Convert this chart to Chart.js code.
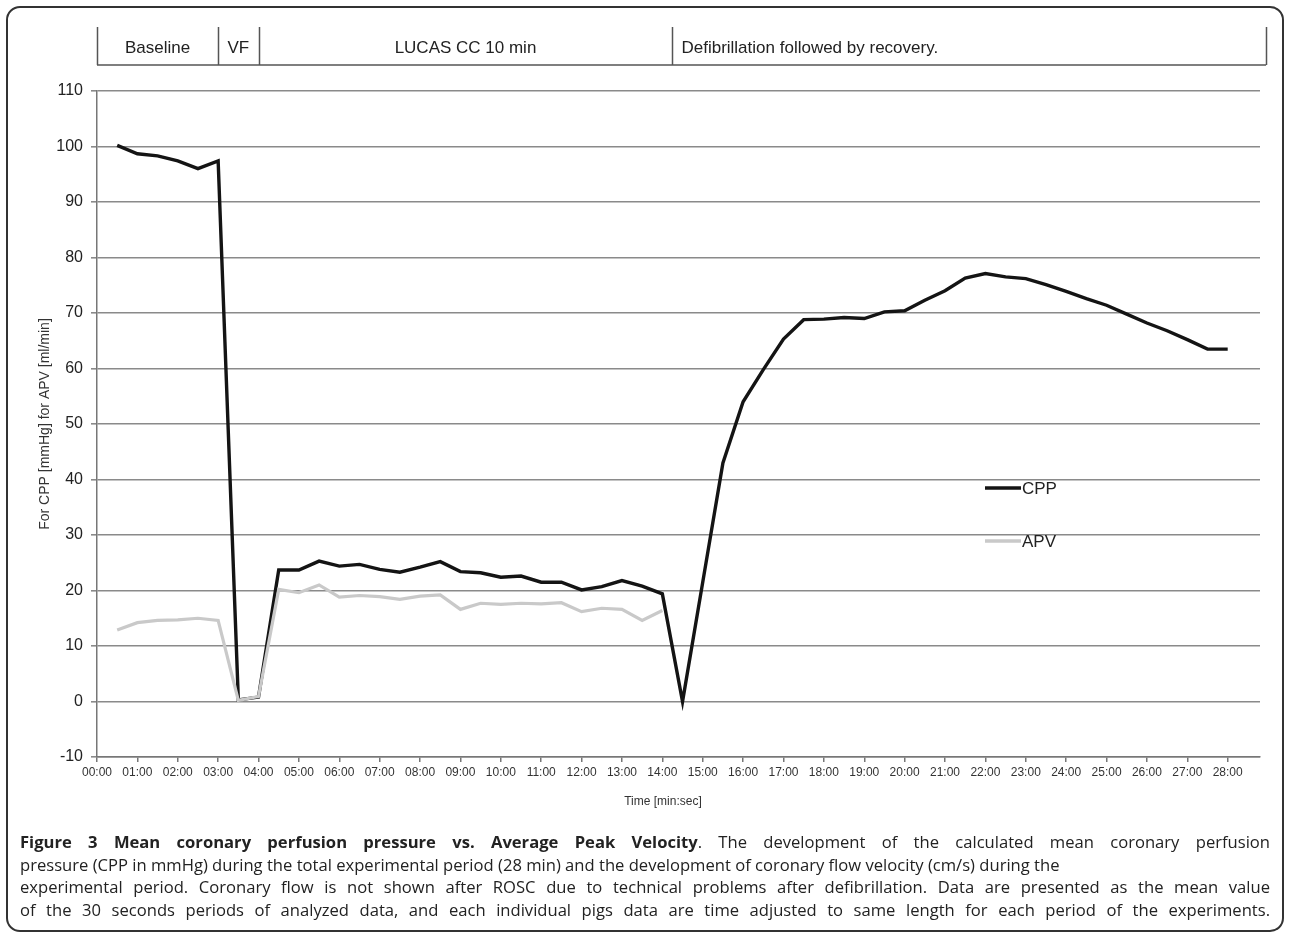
<!DOCTYPE html>
<html>
<head>
<meta charset="utf-8">
<script src="https://cdn.jsdelivr.net/npm/chart.js@4.4.1/dist/chart.umd.min.js"></script>
<style>
    html, body { margin: 0; padding: 0; background: #fff; }
    #page { position: relative; width: 1290px; height: 938px; overflow: hidden; }
    #frame {
        position: absolute; left: 6px; top: 6px; width: 1274px; height: 922px;
        border: 2px solid #333; border-radius: 14px; pointer-events: none;
    }
    #chartBox { position: absolute; left: 0; top: 0; width: 1290px; height: 938px; }
    #caption {
        position: absolute; left: 20px; top: 831px; width: 1250px;
        font-family: "Open Sans", "Noto Sans", sans-serif; font-size: 16.6px; line-height: 22.5px; color: #222;
    }
    #caption div { text-align: justify; text-align-last: justify; white-space: nowrap; }
    #caption div.left { text-align-last: left; }
</style>
</head>
<body>
<div id="page">
    <div id="chartBox"><canvas id="cppChart"></canvas></div>
    <div id="caption">
        <div><b>Figure 3 Mean coronary perfusion pressure vs. Average Peak Velocity</b>. The development of the calculated mean coronary perfusion</div>
        <div class="left">pressure (CPP in mmHg) during the total experimental period (28 min) and the development of coronary flow velocity (cm/s) during the</div>
        <div>experimental period. Coronary flow is not shown after ROSC due to technical problems after defibrillation. Data are presented as the mean value</div>
        <div>of the 30 seconds periods of analyzed data, and each individual pigs data are time adjusted to same length for each period of the experiments.</div>
    </div>
    <div id="frame"></div>
</div>
<script>
// time in minutes (30 s periods)
const cppTimes = [0.5, 1, 1.5, 2, 2.5, 3, 3.5, 4, 4.5, 5, 5.5, 6, 6.5, 7, 7.5, 8, 8.5, 9, 9.5, 10,
    10.5, 11, 11.5, 12, 12.5, 13, 13.5, 14, 14.5, 15, 15.5, 16, 16.5, 17, 17.5, 18, 18.5, 19, 19.5, 20,
    20.5, 21, 21.5, 22, 22.5, 23, 23.5, 24, 24.5, 25, 25.5, 26, 26.5, 27, 27.5, 28];
const cppValues = [100.2, 98.7, 98.3, 97.4, 96.0, 97.4, 0.3, 0.8, 23.7, 23.7, 25.3, 24.4, 24.7, 23.8, 23.3, 24.2, 25.2, 23.4, 23.2, 22.4,
    22.6, 21.5, 21.5, 20.1, 20.7, 21.8, 20.8, 19.4, 0, 21.5, 43.0, 54.0, 59.8, 65.3, 68.8, 68.9, 69.2, 69.0, 70.2, 70.4,
    72.3, 74.0, 76.3, 77.1, 76.5, 76.2, 75.1, 73.9, 72.6, 71.4, 69.8, 68.2, 66.8, 65.2, 63.5, 63.5];

const apvTimes = [0.5, 1, 1.5, 2, 2.5, 3, 3.5, 4, 4.5, 5, 5.5, 6, 6.5, 7, 7.5, 8, 8.5, 9, 9.5, 10,
    10.5, 11, 11.5, 12, 12.5, 13, 13.5, 14];
const apvValues = [12.9, 14.2, 14.6, 14.7, 15.0, 14.6, 0.2, 0.9, 20.2, 19.6, 21.0, 18.8, 19.1, 18.9, 18.4, 19.0, 19.2, 16.6, 17.7, 17.5,
    17.7, 17.6, 17.8, 16.2, 16.8, 16.6, 14.6, 16.4];

const minuteTicks = [0, 1, 2, 3, 4, 5, 6, 7, 8, 9, 10, 11, 12, 13, 14, 15, 16, 17, 18, 19, 20, 21, 22, 23, 24, 25, 26, 27, 28];

// experiment phases shown above the plot (minutes)
const phaseLabels = ["Baseline", "VF", "LUCAS CC 10 min", "Defibrillation followed by recovery."];
const phaseStarts = [0, 3, 4, 14.25];
const phaseEnds = [3, 4, 14.25, 28.95];

const seriesNames = ["CPP", "APV"];
const seriesColors = ["#141414", "#c9c9c9"];

const toPoints = (xs, ys) => xs.map((x, i) => ({ x: x, y: ys[i] }));
const fmtMin = v => String(v).padStart(2, "0") + ":00";

const axisFont = "'Liberation Sans', Arial, sans-serif";
const narrowFont = "'Liberation Sans Narrow', 'Liberation Sans', Arial, sans-serif";

// header with phases, axis titles and legend
const extrasPlugin = {
    id: "extras",
    afterDraw(chart) {
        const ctx = chart.ctx;
        const xs = chart.scales.x;
        const area = chart.chartArea;
        const top = area.top - 64, bottom = area.top - 26;

        ctx.save();
        ctx.strokeStyle = "#555";
        ctx.lineWidth = 1.5;
        ctx.beginPath();
        ctx.moveTo(xs.getPixelForValue(phaseStarts[0]), bottom);
        ctx.lineTo(xs.getPixelForValue(phaseEnds[phaseEnds.length - 1]), bottom);
        phaseStarts.forEach(s => {
            const px = Math.round(xs.getPixelForValue(s)) + 0.5;
            ctx.moveTo(px, top);
            ctx.lineTo(px, bottom);
        });
        const endPx = Math.round(xs.getPixelForValue(phaseEnds[phaseEnds.length - 1])) + 0.5;
        ctx.moveTo(endPx, top);
        ctx.lineTo(endPx, bottom);
        ctx.stroke();

        ctx.fillStyle = "#222";
        ctx.font = "17px " + narrowFont;
        ctx.textBaseline = "middle";
        phaseLabels.forEach((label, i) => {
            const a = xs.getPixelForValue(phaseStarts[i]);
            const b = xs.getPixelForValue(phaseEnds[i]);
            if (i === phaseLabels.length - 1) {
                ctx.textAlign = "left";
                ctx.fillText(label, a + 9, (top + bottom) / 2 + 2);
            } else {
                ctx.textAlign = "center";
                ctx.fillText(label, (a + b) / 2, (top + bottom) / 2 + 2);
            }
        });

        // axis titles
        ctx.font = "12px " + axisFont;
        ctx.fillStyle = "#333";
        ctx.textAlign = "center";
        ctx.fillText("Time [min:sec]", 663, 802);
        ctx.font = "14px " + axisFont;
        ctx.translate(45, (area.top + area.bottom) / 2);
        ctx.rotate(-Math.PI / 2);
        ctx.fillText("For CPP [mmHg] for APV [ml/min]", 0, 0);
        ctx.restore();

        // legend
        ctx.save();
        ctx.font = "17px " + axisFont;
        ctx.textAlign = "left";
        ctx.textBaseline = "middle";
        seriesNames.forEach((name, i) => {
            const y = 488 + i * 53;
            ctx.strokeStyle = seriesColors[i];
            ctx.lineWidth = 3.5;
            ctx.beginPath();
            ctx.moveTo(985, y);
            ctx.lineTo(1021, y);
            ctx.stroke();
            ctx.fillStyle = "#222";
            ctx.fillText(name, 1022, y + 1);
        });
        ctx.restore();
    }
};

const chart = new Chart(document.getElementById("cppChart"), {
    type: "line",
    data: {
        datasets: [
            {
                label: seriesNames[1],
                data: toPoints(apvTimes, apvValues),
                borderColor: seriesColors[1],
                borderWidth: 3.2,
                pointRadius: 0,
                tension: 0
            },
            {
                label: seriesNames[0],
                data: toPoints(cppTimes, cppValues),
                borderColor: seriesColors[0],
                borderWidth: 3.4,
                pointRadius: 0,
                tension: 0
            }
        ]
    },
    options: {
        responsive: true,
        maintainAspectRatio: false,
        animation: false,
        layout: { padding: { left: 36, top: 91, right: 30, bottom: 121 } },
        plugins: {
            legend: { display: false },
            tooltip: { enabled: false }
        },
        scales: {
            x: {
                type: "linear",
                min: 0,
                max: 28.8,
                afterBuildTicks: scale => { scale.ticks = minuteTicks.map(v => ({ value: v })); },
                afterFit: scale => { scale.height = 60; },
                grid: { drawOnChartArea: false, drawTicks: true, tickLength: 5, color: "#777", lineWidth: 1.5 },
                border: { color: "#777", width: 1.5 },
                ticks: {
                    autoSkip: false,
                    maxRotation: 0,
                    padding: 3,
                    color: "#333",
                    font: { family: narrowFont, size: 12 },
                    callback: v => fmtMin(v)
                }
            },
            y: {
                min: -10,
                max: 110,
                afterFit: scale => { scale.width = 61; },
                grid: { color: "#8a8a8a", lineWidth: 1.6, tickLength: 6 },
                border: { color: "#777", width: 1.5 },
                ticks: {
                    stepSize: 10,
                    padding: 8,
                    color: "#222",
                    font: { family: axisFont, size: 16 }
                }
            }
        }
    },
    plugins: [extrasPlugin]
});
</script>
</body>
</html>
